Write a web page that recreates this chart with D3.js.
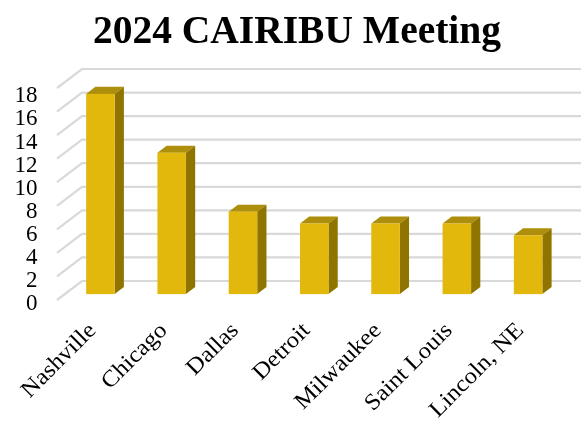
<!DOCTYPE html>
<html>
<head>
<meta charset="utf-8">
<script src="https://cdn.jsdelivr.net/npm/d3@7"></script>
<style>
  html, body { margin: 0; padding: 0; background: #fff; }
  svg { display: block; }
  text { font-family: 'Liberation Serif', serif; fill: #000; }
</style>
</head>
<body>
<div class="chart"></div>
<script>
const cities = ['Nashville', 'Chicago', 'Dallas', 'Detroit', 'Milwaukee', 'Saint Louis', 'Lincoln, NE'];
const attendees = [17, 12, 7, 6, 6, 6, 5];
const yTicks = [0, 2, 4, 6, 8, 10, 12, 14, 16, 18];

const width = 584,
  height = 421,
  depth = { x: 25, y: -19 }, // floor depth of the fake 3d box
  barPlane = 0.31, // how far into the box the bars stand
  barDepth = 0.37;

const svg = d3
  .select('.chart')
  .append('svg')
  .attr('width', width)
  .attr('height', height);

const defs = svg.append('defs');
defs.append('filter').attr('id', 'soft').append('feGaussianBlur').attr('stdDeviation', 0.55);
defs.append('filter').attr('id', 'softText').append('feGaussianBlur').attr('stdDeviation', 0.3);

const x = d3.scaleBand().domain(cities).range([57, 556]).paddingInner(0.6).paddingOuter(0.3);
const y = d3.scaleLinear().domain([0, 18]).range([300, 88]);
// the tick labels sit a bit tighter than the gridlines
const yLabel = d3.scaleLinear().domain([0, 18]).range([302, 94]);

// grid: back wall lines plus the slanted bit on the side wall
const grid = svg.append('g').attr('filter', 'url(#soft)');
grid
  .selectAll('.grid')
  .data(yTicks)
  .enter()
  .append('polyline')
  .attr('class', 'grid')
  .attr('fill', 'none')
  .attr('stroke', '#d9d9d9')
  .attr('stroke-width', 2.2)
  .attr('points', d => {
    const left = x.range()[0];
    const right = x.range()[1];
    return `${left},${y(d)} ${left + depth.x},${y(d) + depth.y} ${right + depth.x},${y(d) + depth.y}`;
  });

// bars
const bars = svg
  .append('g')
  .attr('filter', 'url(#soft)')
  .selectAll('.bar')
  .data(cities.map((name, i) => ({ name, value: attendees[i] })))
  .enter()
  .append('g')
  .attr('class', 'bar')
  .attr('transform', `translate(${depth.x * barPlane},${depth.y * barPlane})`);

const dx = depth.x * barDepth,
  dy = depth.y * barDepth;

bars
  .append('path')
  .attr('fill', '#ad8f07')
  .attr('d', d => {
    const l = x(d.name);
    const r = l + x.bandwidth();
    const t = y(d.value);
    return `M${l},${t}L${l + dx},${t + dy}L${r + dx},${t + dy}L${r},${t}Z`;
  });

bars
  .append('path')
  .attr('fill', '#8f7505')
  .attr('d', d => {
    const r = x(d.name) + x.bandwidth();
    return `M${r},${y(d.value)}L${r + dx},${y(d.value) + dy}L${r + dx},${y(0) + dy}L${r},${y(0)}Z`;
  });

bars
  .append('rect')
  .attr('fill', '#e2b80c')
  .attr('x', d => x(d.name))
  .attr('y', d => y(d.value))
  .attr('width', x.bandwidth())
  .attr('height', d => y(0) - y(d.value));

const labels = svg.append('g').attr('filter', 'url(#softText)');

// y axis
const yAxis = labels
  .append('g')
  .attr('transform', 'translate(37.5,0)')
  .call(d3.axisLeft(yLabel).tickValues(yTicks).tickSize(0).tickPadding(0));
yAxis.select('.domain').remove();
yAxis.selectAll('text').style('font-size', '23px').attr('fill', '#000').attr('dy', '0.34em');

// x labels, stretched a little because the original face runs wider
labels
  .selectAll('.label')
  .data(cities)
  .enter()
  .append('text')
  .attr('class', 'label')
  .attr('text-anchor', 'end')
  .attr('font-size', 23)
  .attr('transform', d => `translate(${x(d) + x.bandwidth() / 2 - 7},320) rotate(-45) scale(1.08,1)`)
  .attr('dy', '0.7em')
  .text(d => d);

labels
  .append('text')
  .attr('x', 297)
  .attr('y', 43)
  .attr('text-anchor', 'middle')
  .attr('font-size', 39.5)
  .attr('font-weight', 'bold')
  .text('2024 CAIRIBU Meeting');
</script>
</body>
</html>
